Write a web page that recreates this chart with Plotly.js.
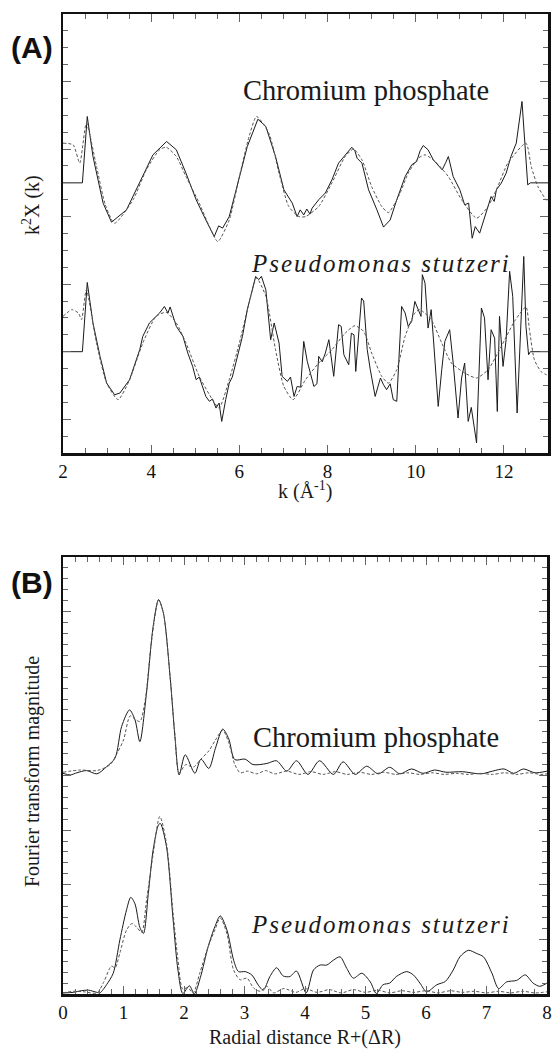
<!DOCTYPE html>
<html>
<head>
<meta charset="utf-8">
<script src="https://cdn.plot.ly/plotly-3.0.1.min.js"></script>
<style>html,body{margin:0;padding:0;background:#fff;}#chart{width:552px;height:1050px;}</style>
</head>
<body>
<div id="chart"></div>
<script>
// ---------- Panel A: k^2 chi(k) ----------
const chromK = [2.0,2.44,2.55,2.68,2.91,3.10,3.44,3.74,4.04,4.35,4.57,4.79,5.02,5.24,5.43,5.53,5.62,5.77,5.99,6.18,6.42,6.60,6.82,7.01,7.20,7.31,7.38,7.46,7.53,7.60,7.65,7.80,7.95,8.10,8.25,8.37,8.45,8.55,8.62,8.67,8.78,8.93,9.12,9.27,9.42,9.57,9.76,9.91,10.02,10.10,10.17,10.28,10.40,10.51,10.60,10.68,10.74,10.85,11.00,11.11,11.20,11.28,11.35,11.45,11.56,11.64,11.71,11.78,11.83,11.94,12.05,12.16,12.28,12.41,12.54,12.60,13.0];
const chromExp = [0,0,3.93,1.56,-1.2,-2.33,-1.6,0,1.66,2.45,1.96,0.57,-1.0,-2.2,-3.18,-2.55,-2.68,-2.0,0.18,2.15,3.77,3.34,1.56,-0.41,-1.2,-2.0,-1.6,-1.9,-1.55,-1.85,-1.5,-1.0,-0.6,0.18,1.17,1.56,1.8,2.11,1.9,1.46,1.17,-0.41,-1.6,-2.62,-2.2,-1.0,0.37,1.07,1.26,1.9,2.21,1.96,1.36,1.07,0.77,1.2,1.56,0.37,-0.41,-1.3,-1.2,-3.28,-2.59,-2.98,-2.0,-1.4,-0.81,-1.1,-0.41,-0.02,0.57,1.56,2.35,4.82,-0.12,0,0];
const chromFitK = [2.0,2.23,2.38,2.53,2.76,2.96,3.17,3.59,3.89,4.19,4.34,4.57,4.79,5.09,5.32,5.51,5.77,6.0,6.22,6.39,6.67,6.9,7.12,7.35,7.5,7.8,8.1,8.4,8.59,8.78,9.0,9.23,9.38,9.61,9.83,10.06,10.21,10.44,10.74,11.04,11.38,11.64,11.86,12.09,12.5,12.62,12.77,12.96,13.0];
const chromFit = [2.35,2.25,1.17,3.54,0.97,-1.3,-2.39,-1.0,0.77,1.96,2.11,1.56,0.37,-1.2,-2.59,-3.48,-2.2,0.37,2.74,3.93,2.94,0.57,-1.4,-2.0,-2.0,-1.4,0,1.56,2.0,1.36,-0.22,-1.4,-1.76,-0.81,0.57,1.46,1.66,1.26,0.37,-1.0,-2.09,-1.4,-0.22,1.17,2.35,0.97,-0.22,-1.0,-1.05];

const pseuK = [2.0,2.44,2.55,2.68,2.84,2.99,3.17,3.29,3.51,3.74,3.81,3.96,4.19,4.30,4.38,4.43,4.57,4.72,4.83,4.94,5.02,5.09,5.24,5.32,5.39,5.47,5.54,5.60,5.69,5.77,5.84,5.96,6.07,6.18,6.26,6.37,6.44,6.50,6.60,6.64,6.71,6.79,6.90,6.97,7.09,7.16,7.24,7.31,7.39,7.46,7.54,7.61,7.69,7.76,7.80,7.88,7.95,8.03,8.14,8.25,8.31,8.37,8.48,8.54,8.60,8.64,8.72,8.77,8.82,8.90,8.97,9.08,9.20,9.27,9.34,9.42,9.49,9.57,9.68,9.76,9.83,9.91,9.98,10.06,10.12,10.15,10.21,10.28,10.35,10.40,10.51,10.59,10.66,10.77,10.85,10.96,11.04,11.11,11.19,11.26,11.38,11.41,11.49,11.56,11.64,11.71,11.79,11.85,11.90,11.98,12.05,12.13,12.20,12.30,12.35,12.45,12.50,12.56,12.60,13.0];
const pseuExp = [0,0,4.1,1.7,-0.28,-1.86,-2.55,-2.45,-1.66,0.12,0.91,1.7,2.29,2.68,2.29,2.65,1.5,0.91,-0.08,-0.87,-1.66,-1.5,-2.65,-2.94,-2.8,-3.34,-3.04,-4.13,-2.84,-1.86,-1.5,-0.28,0.91,2.49,3.38,4.46,4.27,4.46,3.67,2.49,0.71,1.7,0.51,-1.46,-1.76,-1.5,-2.65,-2.06,-2.1,0.61,-0.57,-1.26,-2.06,-1.9,-0.28,-0.6,-0.08,0.71,-1.46,1.6,1.5,-0.18,-0.77,1.1,1.0,-1.17,1.9,3.18,3.0,0.12,-1.07,-2.65,-1.56,-1.96,-2.25,-1.9,-2.84,-2.94,2.68,2.29,1.5,1.8,2.98,2.5,2.09,4.56,4.07,1.4,2.49,0.81,-3.24,-1.07,0.61,1.3,-0.67,-3.93,-1.56,-0.67,-4.13,-3.3,-5.4,-3.04,2.59,2.0,-1.66,1.3,0.8,-3.54,2.09,-0.87,0.71,4.76,3.28,-3.63,-0.5,5.64,1.5,-0.18,0,0];
const pseuFitK = [2.0,2.2,2.35,2.42,2.53,2.76,2.99,3.25,3.51,3.81,4.11,4.34,4.57,4.79,5.09,5.39,5.54,5.77,6.0,6.22,6.39,6.6,6.82,7.01,7.22,7.5,7.8,8.1,8.4,8.62,8.82,9.0,9.23,9.38,9.57,9.76,9.98,10.09,10.35,10.59,10.81,11.11,11.38,11.64,11.94,12.24,12.5,12.58,12.69,12.84,12.96,13.0];
const pseuFit = [2.09,2.49,2.29,1.9,3.67,0.51,-1.86,-2.84,-1.66,0.51,2.09,2.33,1.7,0.51,-1.46,-2.84,-3.34,-1.66,0.51,2.88,4.36,3.28,0.12,-2.06,-2.84,-1.66,-0.67,0.12,1.1,1.54,1.2,-0.08,-1.46,-1.86,-1.07,0.91,2.29,2.49,1.9,0.51,-0.67,-1.26,-1.56,-1.07,0.31,1.8,2.65,1.3,-0.47,-1.17,-1.36,-1.38];

// ---------- Panel B: Fourier transform magnitude ----------
const chromR = [0,0.12,0.23,0.39,0.56,0.72,0.86,0.97,1.10,1.19,1.27,1.38,1.49,1.58,1.66,1.77,1.85,1.92,2.02,2.18,2.28,2.41,2.52,2.64,2.74,2.84,3.01,3.14,3.37,3.53,3.70,3.86,4.05,4.24,4.47,4.63,4.83,5.02,5.21,5.40,5.57,5.76,5.95,6.14,6.33,6.60,6.91,7.10,7.29,7.45,7.61,7.80,8.0];
const chromFT = [0.04,0.01,0.05,0.09,0.03,0.16,0.32,0.9,1.2,1.02,0.62,1.51,2.73,3.22,2.97,1.81,0.71,0.01,0.38,0.04,0.3,0.13,0.5,0.85,0.67,0.29,0.3,0.2,0.22,0.27,0.08,0.27,0.02,0.27,0.02,0.25,0.02,0.17,0.03,0.15,0.03,0.12,0.04,0.1,0.06,0.07,0.03,0.08,0.12,0.04,0.12,0.05,0.08];
const chromFitR = [0,0.28,0.56,0.78,0.89,1.0,1.11,1.19,1.27,1.36,1.46,1.58,1.66,1.77,1.85,1.92,2.03,2.15,2.28,2.41,2.52,2.64,2.74,2.84,2.93,3.05,3.2,3.35,3.5,3.7,3.9,4.1,4.3,4.5,4.7,4.9,5.1,5.3,5.5,5.7,5.9,6.1,6.3,6.5,6.7,6.9,7.1,7.3,7.5,7.7,7.9,8.0];
const chromFitFT = [0.06,0.1,0.09,0.2,0.4,0.65,1.09,1.03,0.99,1.39,2.43,3.21,2.97,1.81,0.75,0.05,0.2,0.15,0.3,0.45,0.65,0.83,0.6,0.2,0.05,0.08,0.03,0.09,0.03,0.08,0.02,0.07,0.02,0.07,0.02,0.06,0.02,0.06,0.02,0.05,0.02,0.05,0.02,0.04,0.02,0.04,0.02,0.05,0.02,0.05,0.02,0.03];

const pseuR = [0,0.17,0.30,0.42,0.56,0.61,0.72,0.83,0.94,1.05,1.12,1.19,1.27,1.33,1.41,1.49,1.58,1.61,1.71,1.82,1.90,1.98,2.09,2.17,2.27,2.40,2.51,2.60,2.71,2.82,2.90,3.01,3.12,3.23,3.31,3.42,3.53,3.64,3.75,3.86,4.02,4.14,4.25,4.36,4.47,4.58,4.69,4.80,4.94,5.08,5.18,5.29,5.40,5.51,5.68,5.79,5.90,6.01,6.18,6.32,6.45,6.56,6.70,6.84,6.95,7.09,7.20,7.33,7.50,7.64,7.77,7.88,8.0];
const pseuFT = [0.02,0.03,0.06,0.07,0.03,0.02,0.17,0.38,0.99,1.54,1.77,1.65,1.22,1.11,1.84,2.64,3.1,3.12,2.7,1.36,0.44,0.01,0.15,0.0,0.3,0.87,1.23,1.43,1.17,0.62,0.41,0.41,0.35,0.16,0.07,0.32,0.48,0.33,0.32,0.42,0.02,0.44,0.53,0.53,0.62,0.68,0.47,0.29,0.38,0.22,0.01,0.17,0.2,0.32,0.41,0.35,0.2,0.04,0.17,0.23,0.44,0.68,0.8,0.74,0.68,0.38,0.1,0.22,0.25,0.35,0.2,0.14,0.2];
const pseuFitR = [0,0.17,0.35,0.56,0.67,0.8,0.86,0.94,1.05,1.14,1.22,1.3,1.38,1.49,1.6,1.71,1.82,1.9,1.98,2.06,2.15,2.26,2.4,2.51,2.6,2.71,2.82,2.93,3.04,3.15,3.26,3.37,3.48,3.65,3.85,4.0,4.2,4.4,4.6,4.8,5.0,5.2,5.4,5.6,5.8,6.0,6.2,6.4,6.6,6.8,7.0,7.2,7.4,7.6,7.8,8.0];
const pseuFitFT = [0.02,0.05,0.04,0.02,0.21,0.51,0.48,0.75,1.17,1.29,1.22,1.13,1.71,2.56,3.25,2.76,1.48,0.63,0.09,0.12,0.02,0.38,0.87,1.17,1.39,1.1,0.44,0.26,0.29,0.11,0.05,0.14,0.02,0.1,0.03,0.1,0.03,0.08,0.02,0.08,0.03,0.07,0.02,0.06,0.03,0.06,0.02,0.06,0.03,0.05,0.02,0.05,0.02,0.05,0.02,0.04];

// vertical stacking offsets
const offA = 10, offB = 4;

const W = 552, H = 1050;
const px = x => x / W, py = y => 1 - y / H;
const SERIF = 'Liberation Serif';
const SANS = 'Liberation Sans';

const solid = {color:'#1a1a1a', width:1};
const dashed = {color:'#555', width:1, dash:'3px,2px'};
const shift = (arr, o) => arr.map(v => v + o);

const traces = [
  {x: chromK, y: shift(chromExp, offA), xaxis:'x', yaxis:'y', mode:'lines', line: solid},
  {x: chromFitK, y: shift(chromFit, offA), xaxis:'x', yaxis:'y', mode:'lines', line: Object.assign({shape:'spline', smoothing:0.6}, dashed)},
  {x: pseuK, y: pseuExp, xaxis:'x', yaxis:'y', mode:'lines', line: solid},
  {x: pseuFitK, y: pseuFit, xaxis:'x', yaxis:'y', mode:'lines', line: Object.assign({shape:'spline', smoothing:0.6}, dashed)},
  {x: chromR, y: shift(chromFT, offB), xaxis:'x2', yaxis:'y2', mode:'lines', line: Object.assign({shape:'spline', smoothing:0.8}, solid)},
  {x: chromFitR, y: shift(chromFitFT, offB), xaxis:'x2', yaxis:'y2', mode:'lines', line: Object.assign({shape:'spline', smoothing:0.8}, dashed)},
  {x: pseuR, y: pseuFT, xaxis:'x2', yaxis:'y2', mode:'lines', line: Object.assign({shape:'spline', smoothing:0.8}, solid)},
  {x: pseuFitR, y: pseuFitFT, xaxis:'x2', yaxis:'y2', mode:'lines', line: Object.assign({shape:'spline', smoothing:0.8}, dashed)}
];

const tickFont = {family: SERIF, size:19, color:'#111'};
const axBase = {
  showline:true, linecolor:'#111', linewidth:2.5, mirror:'allticks',
  ticks:'inside', tickcolor:'#666', tickwidth:1, ticklen:8,
  showgrid:false, zeroline:false, fixedrange:true, tickfont: tickFont
};
const minorOf = d => ({dtick:d, ticks:'inside', ticklen:5, tickcolor:'#666', tickwidth:1});

function note(text, x, y, size, opts) {
  return Object.assign({text:text, x:px(x), y:py(y), xref:'paper', yref:'paper', showarrow:false,
    xanchor:'center', yanchor:'middle', font:{family:SERIF, size:size, color:'#1a1a1a'}}, opts || {});
}

const layout = {
  width: W, height: H,
  margin: {l:0, r:0, t:0, b:0},
  paper_bgcolor:'#fff', plot_bgcolor:'#fff',
  showlegend:false,
  font: {family: SERIF, color:'#111'},
  xaxis: Object.assign({}, axBase, {domain:[px(63), px(548)], range:[2,13], tick0:2, dtick:2, anchor:'y', minor:minorOf(0.5)}),
  yaxis: Object.assign({}, axBase, {domain:[py(453), py(14)], range:[-6,20], tick0:0, dtick:4, showticklabels:false, anchor:'x', minor:minorOf(1)}),
  xaxis2: Object.assign({}, axBase, {domain:[px(63), px(547)], range:[0,8], tick0:0, dtick:1, anchor:'y2', minor:minorOf(0.2)}),
  yaxis2: Object.assign({}, axBase, {domain:[py(994), py(557)], range:[0,8], tick0:0, dtick:1, showticklabels:false, anchor:'x2', minor:minorOf(0.2)}),
  annotations: [
    note('<b>(A)</b>', 32, 47, 30, {font:{family:SANS, size:30, color:'#111'}}),
    note('<b>(B)</b>', 32, 582, 30, {font:{family:SANS, size:30, color:'#111'}}),
    note('Chromium phosphate', 366, 90, 28.5),
    note('<i><span style="letter-spacing:2px">Pseudomonas stutzeri</span></i>', 381, 263, 25),
    note('Chromium phosphate', 376, 737, 28.5),
    note('<i><span style="letter-spacing:2px">Pseudomonas stutzeri</span></i>', 381, 924, 25),
    note('k<sup>2</sup>X (k)', 32, 205, 20, {textangle:-90}),
    note('k (Å<sup>-1</sup>)', 305, 490, 20),
    note('Fourier transform magnitude', 32, 772, 20, {textangle:-90}),
    note('Radial distance R+(ΔR)', 305, 1037, 20)
  ]
};

Plotly.newPlot('chart', traces, layout, {staticPlot:true, displayModeBar:false});
</script>
</body>
</html>
